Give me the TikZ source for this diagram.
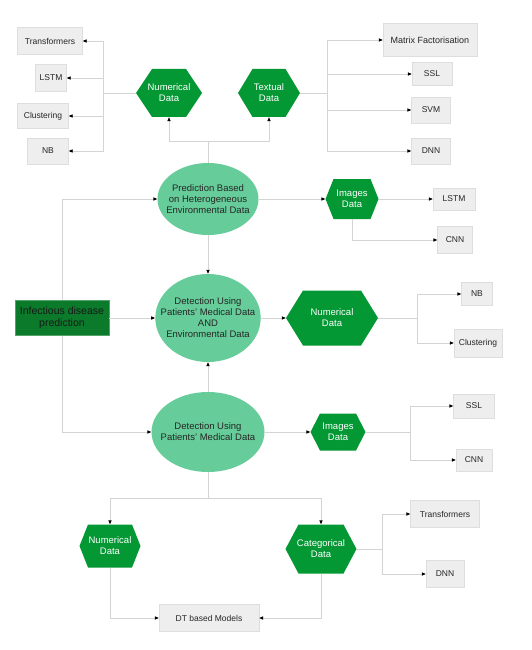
\documentclass[tikz,border=0pt]{standalone}
\usepackage{fontspec}
\setmainfont{Liberation Sans}
\usepackage{tikz}
\usetikzlibrary{arrows.meta,positioning,shapes.geometric}
\definecolor{ellc}{HTML}{66CC99}
\definecolor{hexc}{HTML}{039833}
\definecolor{rootc}{HTML}{0B7A2B}
\definecolor{boxc}{HTML}{EEEEEE}
\definecolor{boxl}{HTML}{DEDEDE}
\definecolor{linec}{HTML}{D4D4D4}
\tikzset{
  ln/.style={linec,line width=0.9pt},
  ar/.style={ln,-{Triangle[length=4pt,width=3.2pt,color=black]}},
  box/.style={draw=boxl,fill=boxc,inner sep=1pt,align=center,font=\fontsize{8.5}{10}\selectfont,text=black!85},
  hexa/.style={inner sep=0pt,align=center,text=white,font=\fontsize{9.5}{11}\selectfont,
    path picture={\fill[hexc] (path picture bounding box.west) -- ([xshift=#1]path picture bounding box.north west)
      -- ([xshift=-#1]path picture bounding box.north east) -- (path picture bounding box.east)
      -- ([xshift=-#1]path picture bounding box.south east) -- ([xshift=#1]path picture bounding box.south west) -- cycle;}},
  elli/.style={ellipse,fill=ellc,inner xsep=-10pt,inner ysep=0pt,align=center,text=black!85,font=\fontsize{9.5}{11}\selectfont}
}
\begin{document}
\begin{tikzpicture}[x=1pt,y=-1pt]
\useasboundingbox (0,0) rectangle (532,650);
% centre column
\node[elli,minimum width=101,minimum height=72] (e1) at (208,199) {Prediction Based\\on Heterogeneous\\Environmental Data};
\node[elli,minimum width=105,minimum height=88] (e2) at (208,318) {Detection Using\\Patients' Medical Data\\AND\\Environmental Data};
\node[elli,minimum width=113,minimum height=80] (e3) at (208,432) {Detection Using\\Patients' Medical Data};
\node[draw=rootc!70!white,fill=rootc,minimum width=94,minimum height=35,align=center,inner sep=1pt,text=black!90,font=\fontsize{10.5}{12}\selectfont] (infect) at (62,318) {Infectious disease\\prediction};
% hexagons
\node[hexa=16pt,minimum width=66,minimum height=48] (hnum1) at (169,93) {Numerical\\Data};
\node[hexa=14.5pt,minimum width=62,minimum height=48] (htxt) at (269,93) {Textual\\Data};
\node[hexa=8pt,minimum width=53,minimum height=40] (himg1) at (352,199) {Images\\Data};
\node[hexa=17pt,minimum width=92,minimum height=55] (hnum2) at (332,318) {Numerical\\Data};
\node[hexa=9.5pt,minimum width=55,minimum height=37] (himg3) at (338,432) {Images\\Data};
\node[hexa=8.5pt,minimum width=61,minimum height=43] (hnum4) at (110,546) {Numerical\\Data};
\node[hexa=13pt,minimum width=71,minimum height=49] (hcat) at (321,549) {Categorical\\Data};
% method boxes
\node[box,minimum width=65,minimum height=27] (trans1) at (50,41) {Transformers};
\node[box,minimum width=31,minimum height=27] (lstm1) at (51,78) {LSTM};
\node[box,minimum width=51,minimum height=25] (clus1) at (43,116) {Clustering};
\node[box,minimum width=41,minimum height=26] (nb1) at (48,151) {NB};
\node[box,minimum width=94,minimum height=33,font=\fontsize{9}{10}\selectfont] (mf) at (430,40) {Matrix Factorisation};
\node[box,minimum width=40,minimum height=23] (ssl1) at (432,74) {SSL};
\node[box,minimum width=39,minimum height=26] (svm) at (431,110) {SVM};
\node[box,minimum width=39,minimum height=26] (dnn1) at (431,151) {DNN};
\node[box,minimum width=42,minimum height=22] (lstm2) at (454,199) {LSTM};
\node[box,minimum width=35,minimum height=27] (cnn2) at (455,240) {CNN};
\node[box,minimum width=31,minimum height=23] (nb2) at (477,294) {NB};
\node[box,minimum width=48,minimum height=28] (clus2) at (478,343) {Clustering};
\node[box,minimum width=41,minimum height=24] (ssl3) at (474,406) {SSL};
\node[box,minimum width=36,minimum height=22] (cnn3) at (474,460) {CNN};
\node[box,minimum width=69,minimum height=27] (trans4) at (445,514) {Transformers};
\node[box,minimum width=38,minimum height=27] (dnn4) at (445,574) {DNN};
\node[box,minimum width=100,minimum height=27] (dt) at (209,618) {DT based Models};
% forks
\coordinate (tsplit) at (208,141);
\coordinate (lfork) at (103,93);
\coordinate (rfork) at (327,93);
\coordinate (fork2) at (417,318);
\coordinate (fork3) at (410,432);
\coordinate (bsplit) at (208,498);
\coordinate (fork4) at (382,549);
% connectors
\draw[ln] (e1.north) -- (tsplit);
\draw[ar] (tsplit) -| (hnum1.south);
\draw[ar] (tsplit) -| (htxt.south);
\draw[ln] (hnum1.west) -- (lfork);
\foreach \b in {trans1,lstm1,clus1,nb1} \draw[ar] (lfork) |- (\b.east);
\draw[ln] (htxt.east) -- (rfork);
\foreach \b in {mf,ssl1,svm,dnn1} \draw[ar] (rfork) |- (\b.west);
\draw[ar] (infect.north) |- (e1.west);
\draw[ar] (infect.south) |- (e3.west);
\draw[ar] (infect.east) -- (e2.west);
\draw[ar] (e1.south) -- (e2.north);
\draw[ar] (e3.north) -- (e2.south);
\draw[ar] (e1.east) -- (himg1.west);
\draw[ar] (himg1.east) -- (lstm2.west);
\draw[ar] (himg1.south) |- (cnn2.west);
\draw[ar] (e2.east) -- (hnum2.west);
\draw[ln] (hnum2.east) -- (fork2);
\foreach \b in {nb2,clus2} \draw[ar] (fork2) |- (\b.west);
\draw[ar] (e3.east) -- (himg3.west);
\draw[ln] (himg3.east) -- (fork3);
\foreach \b in {ssl3,cnn3} \draw[ar] (fork3) |- (\b.west);
\draw[ln] (e3.south) -- (bsplit);
\draw[ar] (bsplit) -| (hnum4.north);
\draw[ar] (bsplit) -| (hcat.north);
\draw[ln] (hcat.east) -- (fork4);
\foreach \b in {trans4,dnn4} \draw[ar] (fork4) |- (\b.west);
\draw[ar] (hnum4.south) |- (dt.west);
\draw[ar] (hcat.south) |- (dt.east);
\end{tikzpicture}
\end{document}
